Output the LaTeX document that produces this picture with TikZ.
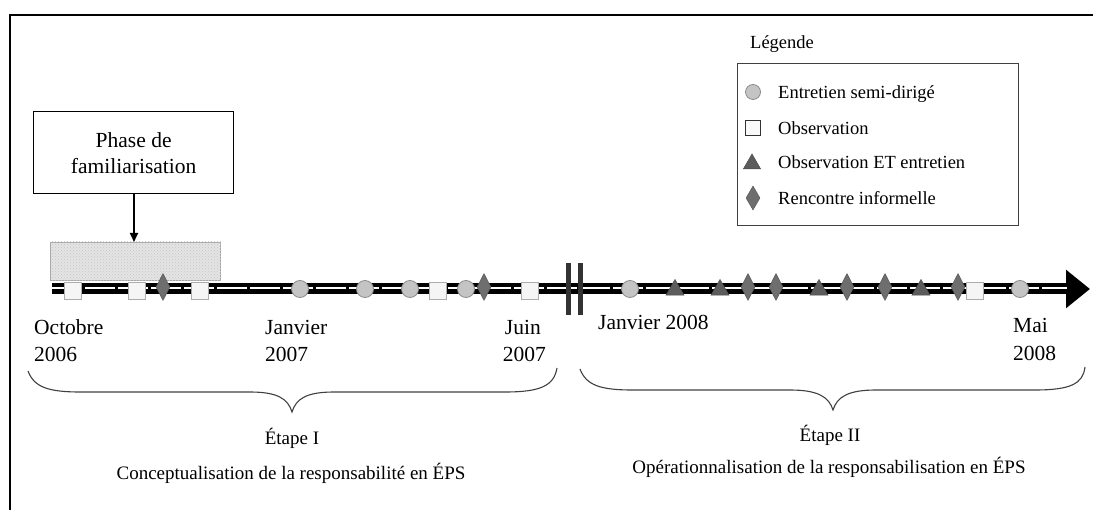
\documentclass[tikz,border=0pt]{standalone}
\usepackage{fontspec}
\setmainfont{Liberation Serif}
\usetikzlibrary{arrows.meta,shapes.geometric,patterns}
\definecolor{circfill}{HTML}{C4C4C4}
\definecolor{circdraw}{HTML}{8C8C8C}
\definecolor{trifill}{HTML}{5C5C5C}
\definecolor{diafill}{HTML}{6E6E6E}
\definecolor{boxgray}{HTML}{E4E4E4}
\tikzset{
  mcirc/.style={circle, fill=circfill, draw=circdraw, line width=0.8pt, minimum size=17pt, inner sep=0pt},
  msq/.style={rectangle, fill=gray!8, draw=gray!65, line width=0.8pt, minimum size=17pt, inner sep=0pt},
  mtri/.style={regular polygon, regular polygon sides=3, fill=trifill, draw=trifill!80!black, line width=0.5pt, minimum size=21pt, inner sep=0pt},
  mdia/.style={diamond, fill=diafill, draw=diafill!80!black, line width=0.5pt, minimum width=14pt, minimum height=27pt, inner sep=0pt},
  breakbar/.style={rectangle, fill=black!80, minimum width=5pt, minimum height=52pt, inner sep=0pt},
  biglbl/.style={font=\fontsize{21.5}{26}\selectfont, inner sep=0pt, anchor=base west},
  leglbl/.style={font=\fontsize{18.5}{22}\selectfont, inner sep=0pt, anchor=base west},
  steplbl/.style={font=\fontsize{19}{23}\selectfont, inner sep=0pt, anchor=base},
  bracestyle/.style={line width=1.1pt, draw=black!75},
}
\begin{document}
\begin{tikzpicture}[x=1pt,y=-1pt]
\useasboundingbox (0,0) rectangle (1093,510);
% frame
\draw[line width=2pt] (10,515) -- (10,15) -- (1098,15);

% phase box
\node (phase) [draw, line width=1.3pt, minimum width=200pt, minimum height=82pt, align=center,
  font=\fontsize{21.5}{26}\selectfont, anchor=north west] at (33,111) {Phase de\\familiarisation};
\node (fam) [rectangle, fill=boxgray, draw=gray!70, line width=0.8pt, minimum width=170pt, minimum height=38pt, inner sep=0pt, anchor=north west] at (50,242) {};
\fill[pattern=crosshatch dots, pattern color=gray!45] (fam.south west) rectangle (fam.north east);
\draw[line width=2pt, -{Triangle[length=9pt,width=8pt]}] (phase.south -| 134,0) -- (134,242);

% timeline
\coordinate (tstart) at (52,289);
\coordinate (ttip) at (1090,289);
\coordinate (tbase) at (1067,288);
\coordinate (wstart) at (52,288);
\draw[line width=11pt, -{Triangle[length=24pt,width=37pt]}] (tstart) -- (ttip);
\draw[white, line width=1.3pt, dash pattern=on 30pt off 3pt] (wstart) -- (tbase);

% break bars
\node (brk1) [breakbar] at (568,289) {};
\node (brk2) [breakbar] at (580,289) {};

% markers
\foreach \x [count=\i] in {73,137,200,438,530,975}
  \node (sq\i) [msq] at (\x,291) {};
\foreach \x [count=\i] in {300,365,410,466,630,1020}
  \node (ci\i) [mcirc] at (\x,289) {};
\foreach \x [count=\i] in {675,720,819,921}
  \node (tr\i) [mtri] at (\x,290) {};
\foreach \x [count=\i] in {163,484,748,776,847,885,958}
  \node (di\i) [mdia] at (\x,287) {};

% date labels
\node (oct) [biglbl] at (34,335) {Octobre};
\node (y06) [biglbl] at (34,362) {2006};
\node (jan) [biglbl] at (265,335) {Janvier};
\node (y07a) [biglbl] at (265,362) {2007};
\node (juin) [biglbl, anchor=base east] at (541,335) {Juin};
\node (y07b) [biglbl, anchor=base east] at (546,362) {2007};
\node (jan08) [biglbl] at (598,330) {Janvier 2008};
\node (mai) [biglbl] at (1013,333) {Mai};
\node (y08) [biglbl] at (1013,361) {2008};

% braces
\draw[bracestyle] (28,371) .. controls (34,387) and (48,392) .. (80,392) -- (250,392)
  .. controls (278,392) and (288,399) .. (292,412)
  .. controls (296,399) and (306,392) .. (334,392) -- (505,392)
  .. controls (540,392) and (554,386) .. (557,368);
\draw[bracestyle] (580,369) .. controls (586,385) and (600,390) .. (632,390) -- (790,390)
  .. controls (818,390) and (829,397) .. (833,410)
  .. controls (837,397) and (848,390) .. (876,390) -- (1035,390)
  .. controls (1070,390) and (1083,384) .. (1085,367);

% step labels
\node (et1) [steplbl] at (292,445) {Étape I};
\node (conc) [steplbl] at (291,479) {Conceptualisation de la responsabilité en ÉPS};
\node (et2) [steplbl] at (830,442) {Étape II};
\node (oper) [steplbl] at (829,474) {Opérationnalisation de la responsabilisation en ÉPS};

% legend
\node (legtitle) [leglbl] at (750,49) {Légende};
\node (legbox) [draw, line width=1.2pt, draw=black!75, minimum width=281pt, minimum height=162pt, anchor=north west] at (737,63) {};
\node (lci) [mcirc, minimum size=15pt] at (753,92) {};
\node (lsq) [msq, minimum size=15pt, fill=gray!5, draw=black!80] at (753,128) {};
\node (ltr) [mtri, minimum size=20pt] at (752,164) {};
\node (ldi) [mdia, minimum height=24pt, minimum width=14pt] at (753,198) {};
\node (lt1) [leglbl] at (778,99) {Entretien semi-dirigé};
\node (lt2) [leglbl] at (778,135) {Observation};
\node (lt3) [leglbl] at (778,169) {Observation ET entretien};
\node (lt4) [leglbl] at (778,205) {Rencontre informelle};
\end{tikzpicture}
\end{document}
